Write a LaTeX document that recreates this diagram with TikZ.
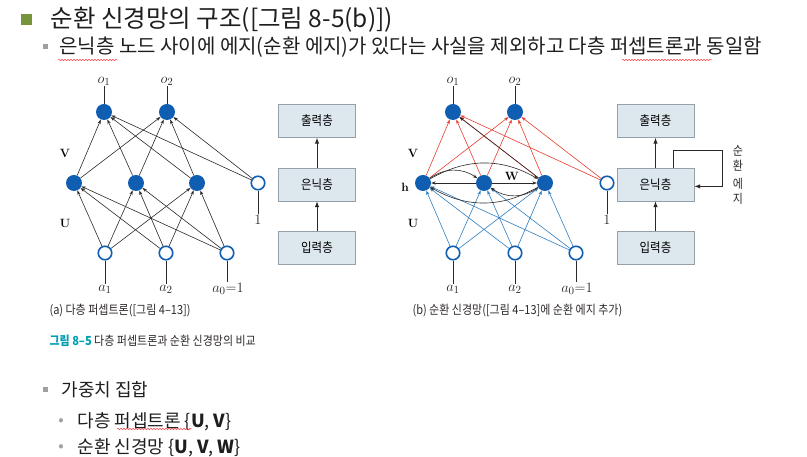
\documentclass[tikz,border=0pt]{standalone}
\usepackage{amsmath}
\usepackage[no-math]{fontspec}
\setmainfont{Noto Sans CJK KR}
\newfontfamily\capfont[FakeStretch=0.88]{Noto Sans CJK KR}
\usetikzlibrary{arrows.meta,positioning,decorations.pathmorphing}
\definecolor{nodeblue}{RGB}{16,94,178}
\definecolor{edgeblue}{RGB}{46,125,190}
\definecolor{edgered}{RGB}{232,62,48}
\definecolor{edgegray}{RGB}{45,40,40}
\definecolor{boxfill}{RGB}{221,231,238}
\definecolor{boxdraw}{RGB}{150,160,168}
\definecolor{figteal}{RGB}{0,158,178}
\definecolor{bulletgreen}{RGB}{119,147,60}
\definecolor{bulletgray}{RGB}{160,160,160}
\definecolor{textdark}{RGB}{30,30,30}

\begin{document}
\begin{tikzpicture}[x=1pt, y=1pt, >={Stealth[length=4.5pt,width=3.2pt]},
  unit/.style={circle,fill=nodeblue,inner sep=0pt,minimum size=16pt},
  open/.style={circle,draw=nodeblue,fill=white,line width=1.6pt,inner sep=0pt,minimum size=13.5pt},
  lab/.style={inner sep=1pt,font=\fontsize{15}{15}\selectfont,text=edgegray},
  wlab/.style={font=\fontsize{13}{13}\selectfont},
  edge/.style={->,line width=0.6pt,draw=edgegray},
  stub/.style={line width=0.9pt,draw=edgegray},
  layer/.style={draw=boxdraw,fill=boxfill,minimum width=77pt,minimum height=33pt,inner sep=0pt,
    font=\capfont\fontsize{13}{13}\selectfont},
  up/.style={-{Latex[length=6pt,width=4.5pt]},line width=1pt,draw=edgegray},
  squig/.style={draw=red!75,line width=0.5pt,decorate,decoration={snake,amplitude=0.7pt,segment length=3pt}}]
  \useasboundingbox (0,0) rectangle (807,457);

  % slide text
  \node[fill=bulletgreen,minimum size=11pt,inner sep=0pt] (tbul) at (26,437) {};
  \node[anchor=west,text=textdark,font=\fontsize{24.5}{24.5}\selectfont] (title) at (47,437) {순환 신경망의 구조([그림 8-5(b)])};
  \node[fill=bulletgray,minimum size=5pt,inner sep=0pt] (sbul) at (45,410) {};
  \node[anchor=west,text=textdark,font=\fontsize{20}{20}\selectfont] (sub) at (56,410)
    {은닉층 노드 사이에 에지(순환 에지)가 있다는 사실을 제외하고 다층 퍼셉트론과 동일함};
  \draw[squig] (58,397) -- (117,397);
  \draw[squig] (622,397) -- (712,397);

  % (a) multilayer perceptron
  \node[unit] (lo1) at (104,345) {};
  \node[unit] (lo2) at (167,345) {};
  \node[unit] (lh1) at (74,274) {};
  \node[unit] (lh2) at (136,274) {};
  \node[unit] (lh3) at (197,274) {};
  \node[open] (lh4) at (258,274) {};
  \node[open] (lx1) at (105,204) {};
  \node[open] (lx2) at (166,204) {};
  \node[open] (lx3) at (227,204) {};
  \node[lab] (lo1t) at (104,376) {$o_1$};
  \node[lab] (lo2t) at (167,376) {$o_2$};
  \node[lab] (lonet) at (258,237) {$1$};
  \node[lab] (lx1t) at (105,168) {$a_1$};
  \node[lab] (lx2t) at (166,168) {$a_2$};
  \node[lab] (lx3t) at (228,168) {$a_0{=}1$};
  \node[wlab] (lV) at (65,304) {$\mathbf{V}$};
  \node[wlab] (lU) at (65,234) {$\mathbf{U}$};
  \draw[stub] (lo1) -- (lo1t);
  \draw[stub] (lo2) -- (lo2t);
  \draw[stub] (lh4) -- (lonet);
  \draw[stub] (lx1) -- (lx1t);
  \draw[stub] (lx2) -- (lx2t);
  \draw[stub] (lx3) -- (lx3t.north -| lx3);
  \foreach \i in {1,2,3} \foreach \j in {1,2,3} \draw[edge] (lx\i) -- (lh\j);
  \foreach \i in {1,2,3,4} \foreach \j in {1,2} \draw[edge] (lh\i) -- (lo\j);

  % (b) recurrent network
  \begin{scope}[xshift=349pt]
    \node[unit] (ro1) at (104,345) {};
    \node[unit] (ro2) at (166,345) {};
    \node[unit] (rh1) at (74,274) {};
    \node[unit] (rh2) at (135,274) {};
    \node[unit] (rh3) at (196,274) {};
    \node[open] (rh4) at (258,274) {};
    \node[open] (rx1) at (104,204) {};
    \node[open] (rx2) at (166,204) {};
    \node[open] (rx3) at (227,204) {};
    \node[lab] (ro1t) at (104,376) {$o_1$};
    \node[lab] (ro2t) at (166,376) {$o_2$};
    \node[lab] (ronet) at (258,237) {$1$};
    \node[lab] (rx1t) at (104,168) {$a_1$};
    \node[lab] (rx2t) at (166,168) {$a_2$};
    \node[lab] (rx3t) at (228,168) {$a_0{=}1$};
    \node[wlab] (rV) at (64,304) {$\mathbf{V}$};
    \node[wlab] (rU) at (64,234) {$\mathbf{U}$};
    \node[wlab] (rhl) at (56,270) {$\mathbf{h}$};
    \node[wlab] (rW) at (163,281) {$\mathbf{W}$};
    \draw[stub] (ro1) -- (ro1t);
    \draw[stub] (ro2) -- (ro2t);
    \draw[stub] (rh4) -- (ronet);
    \draw[stub] (rx1) -- (rx1t);
    \draw[stub] (rx2) -- (rx2t);
    \draw[stub] (rx3) -- (rx3t.north -| rx3);
    \foreach \i in {1,2,3} \foreach \j in {1,2,3} \draw[edge,draw=edgeblue] (rx\i) -- (rh\j);
    \foreach \i in {1,2,3,4} \foreach \j in {1,2} \draw[edge,draw=edgered] (rh\i) -- (ro\j);
    \draw[edge] (rh3) -- (ro1);
    % recurrent edges W
    \draw[edge] (rh1) to[bend left=35] (rh2);
    \draw[edge] (rh2) -- (rh1);
    \draw[edge] (rh2) -- (rh3);
    \draw[edge] (rh3) to[bend left=35] (rh2);
    \draw[edge] (rh1) to[bend left=30] (rh3);
    \draw[edge] (rh3) to[bend left=30] (rh1);
  \end{scope}

  % layer boxes
  \node[layer] (lout) at (317,336) {출력층};
  \node[layer,below=30pt of lout] (lhid) {은닉층};
  \node[layer,below=30pt of lhid] (lin) {입력층};
  \draw[up] (lin) -- (lhid);
  \draw[up] (lhid) -- (lout);
  \node[layer] (rout) at (655.5,336) {출력층};
  \node[layer,below=30pt of rout] (rhid) {은닉층};
  \node[layer,below=30pt of rhid] (rin) {입력층};
  \draw[up] (rin) -- (rhid);
  \draw[up] (rhid) -- (rout);
  \draw[up] ([xshift=17.5pt]rhid.north) |- (722,306) |- ([yshift=-2pt]rhid.east);
  \node[align=center,font=\capfont\fontsize{12.5}{15}\selectfont,text=edgegray] (loopa) at (738,299) {순\\환};
  \node[align=center,font=\capfont\fontsize{12.5}{15}\selectfont,text=edgegray] (loopb) at (738,266) {에\\지};

  % captions
  \node[anchor=west,font=\capfont\fontsize{12.5}{12.5}\selectfont,text=edgegray] (capa) at (46,146)
    {(a) 다층 퍼셉트론([그림 4–13])};
  \node[anchor=west,font=\capfont\fontsize{12.5}{12.5}\selectfont,text=edgegray] (capb) at (409,146)
    {(b) 순환 신경망([그림 4–13]에 순환 에지 추가)};
  \node[anchor=west,font=\capfont\fontsize{12.5}{12.5}\selectfont,text=edgegray] (figcap) at (46,116)
    {\textcolor{figteal}{\textbf{그림 8–5}} 다층 퍼셉트론과 순환 신경망의 비교};

  % weight sets
  \node[fill=bulletgray,minimum size=5pt,inner sep=0pt] (bbul) at (45,67) {};
  \node[anchor=west,text=textdark,font=\fontsize{18}{18}\selectfont] (wset) at (58,67) {가중치 집합};
  \node[text=bulletgray,font=\fontsize{16}{16}\selectfont] (dot1) at (61,35) {•};
  \node[anchor=west,text=textdark,font=\fontsize{18}{18}\selectfont] (wmlp) at (74,35)
    {다층 퍼셉트론 \{\textbf{U}, \textbf{V}\}};
  \draw[squig] (117,28) -- (192,28);
  \node[text=bulletgray,font=\fontsize{16}{16}\selectfont] (dot2) at (61,9) {•};
  \node[anchor=west,text=textdark,font=\fontsize{18}{18}\selectfont] (wrnn) at (74,9)
    {순환 신경망 \{\textbf{U}, \textbf{V}, \textbf{W}\}};
\end{tikzpicture}
\end{document}
